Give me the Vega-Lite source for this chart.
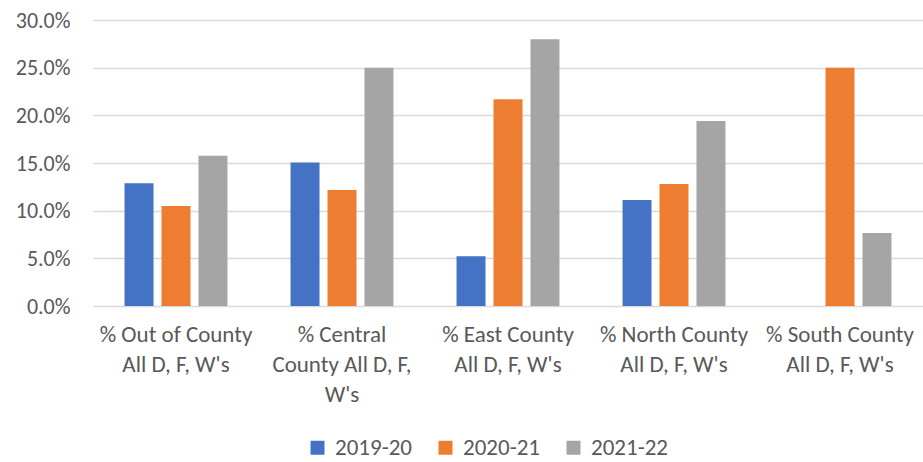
{
  "$schema": "https://vega.github.io/schema/vega-lite/v6.json",
  "autosize": {"type": "none"},
  "width": 830,
  "height": 286,
  "padding": {"left": 93, "top": 20, "right": 0, "bottom": 156},
  "background": "white",
  "config": {
    "font": "Carlito, Lato, sans-serif",
    "view": {"stroke": null}
  },
  "data": {
    "values": [
      {"region": "% Out of County All D, F, W's", "year": "2019-20", "value": 0.1287},
      {"region": "% Out of County All D, F, W's", "year": "2020-21", "value": 0.1049},
      {"region": "% Out of County All D, F, W's", "year": "2021-22", "value": 0.1577},
      {"region": "% Central County All D, F, W's", "year": "2019-20", "value": 0.1504},
      {"region": "% Central County All D, F, W's", "year": "2020-21", "value": 0.1217},
      {"region": "% Central County All D, F, W's", "year": "2021-22", "value": 0.25},
      {"region": "% East County All D, F, W's", "year": "2019-20", "value": 0.0521},
      {"region": "% East County All D, F, W's", "year": "2020-21", "value": 0.2169},
      {"region": "% East County All D, F, W's", "year": "2021-22", "value": 0.2798},
      {"region": "% North County All D, F, W's", "year": "2019-20", "value": 0.1112},
      {"region": "% North County All D, F, W's", "year": "2020-21", "value": 0.128},
      {"region": "% North County All D, F, W's", "year": "2021-22", "value": 0.1941},
      {"region": "% South County All D, F, W's", "year": "2019-20", "value": 0},
      {"region": "% South County All D, F, W's", "year": "2020-21", "value": 0.25},
      {"region": "% South County All D, F, W's", "year": "2021-22", "value": 0.0766}
    ]
  },
  "mark": {"type": "bar"},
  "encoding": {
    "x": {
      "field": "region",
      "type": "nominal",
      "sort": null,
      "scale": {"paddingInner": 0.38, "paddingOuter": 0.19},
      "axis": {
        "title": null,
        "labelAngle": 0,
        "labelFontSize": 23,
        "labelColor": "#595959",
        "labelPadding": 17,
        "labelLineHeight": 30,
        "labelLimit": 0,
        "ticks": false,
        "domain": false,
        "labelExpr": "datum.label == \"% Central County All D, F, W's\" ? ['% Central', 'County All D, F,', \"W's\"] : [slice(datum.label, 0, indexof(datum.label, ' All')), slice(datum.label, indexof(datum.label, ' All') + 1)]"
      }
    },
    "xOffset": {
      "field": "year",
      "type": "nominal",
      "scale": {"paddingInner": 0.216, "paddingOuter": 0}
    },
    "y": {
      "field": "value",
      "type": "quantitative",
      "scale": {"domain": [0, 0.3], "nice": false},
      "axis": {
        "title": null,
        "format": ".1%",
        "values": [0, 0.05, 0.1, 0.15, 0.2, 0.25, 0.3],
        "labelFontSize": 22,
        "labelColor": "#595959",
        "labelPadding": 23,
        "ticks": false,
        "domain": false,
        "gridColor": "#d9d9d9",
        "gridWidth": 1.5
      }
    },
    "color": {
      "field": "year",
      "type": "nominal",
      "scale": {"domain": ["2019-20", "2020-21", "2021-22"], "range": ["#4472C4", "#ED7D31", "#A5A5A5"]},
      "legend": {
        "title": null,
        "orient": "none",
        "legendX": 213,
        "legendY": 416,
        "direction": "horizontal",
        "symbolType": "square",
        "symbolSize": 196,
        "symbolStrokeWidth": 0,
        "labelOffset": 6,
        "labelFontSize": 23,
        "labelColor": "#595959",
        "columnPadding": 22
      }
    }
  }
}
